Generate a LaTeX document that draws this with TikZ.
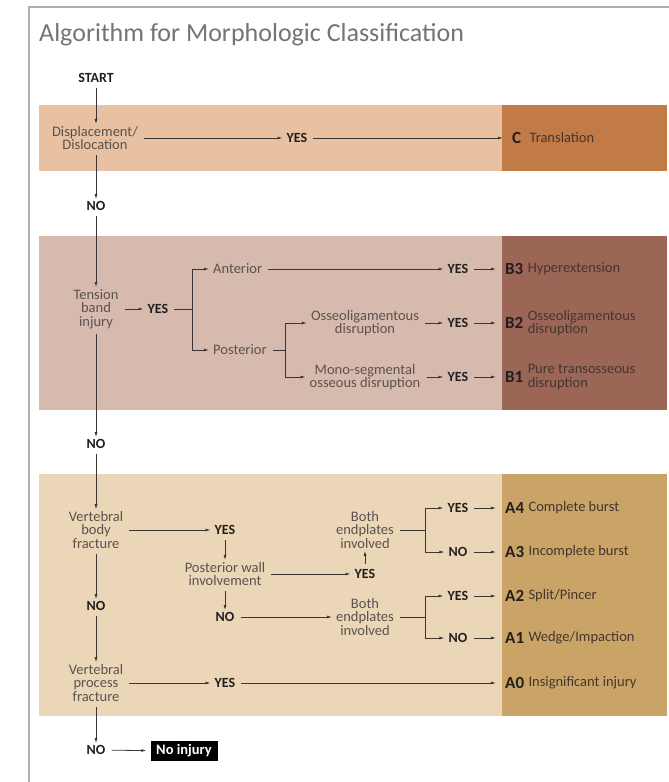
\documentclass[tikz,border=0pt]{standalone}
\usepackage{fontspec}
\setmainfont{Carlito}
\usetikzlibrary{arrows.meta}
\definecolor{frm}{HTML}{B0B0B0}
\definecolor{cl}{HTML}{E8C1A2}
\definecolor{cd}{HTML}{C27A46}
\definecolor{bl}{HTML}{D7BAAE}
\definecolor{bd}{HTML}{9C6657}
\definecolor{al}{HTML}{EBD7B8}
\definecolor{ad}{HTML}{C9A466}
\definecolor{txtc}{HTML}{5C524E}
\definecolor{descc}{HTML}{45352F}
\definecolor{darkc}{HTML}{231F20}
\definecolor{linec}{HTML}{3D3535}
\definecolor{titlec}{HTML}{747476}
\newcommand\lblfont{\fontsize{14.5}{13.5}\selectfont}
\newcommand\ynfont{\fontsize{14}{14}\selectfont\bfseries}
\newcommand\codefont{\fontsize{17}{17}\selectfont\bfseries}
\newcommand\ttlfont{\fontsize{26}{30}\selectfont}
\tikzset{
  lbl/.style={font=\lblfont, text=txtc, align=center, inner sep=0pt},
  yn/.style={font=\ynfont, text=darkc, inner sep=0pt},
  code/.style={font=\codefont, text=darkc, inner sep=0pt, anchor=west},
  desc/.style={font=\lblfont, text=descc, align=left, inner sep=0pt, anchor=west},
  con/.style={draw=linec, line width=0.8pt},
  arr/.style={con, -{Latex[length=5pt,width=3pt]}, shorten >=4pt},
  gap/.style={shorten <=6pt},
  tocode/.style={shorten >=9pt},
  vgap/.style={shorten <=5pt, shorten >=2pt},
}
\begin{document}
\begin{tikzpicture}[x=1pt,y=-1pt]
\useasboundingbox (0,0) rectangle (669,782);
\fill[white] (0,0) rectangle (669,782);
% frame
\draw[frm, line width=1.3pt] (669,7) -- (29,7) -- (29,782);
% bands
\fill[cl] (39,105) rectangle (502,171);
\fill[cd] (502,105) rectangle (667,171);
\fill[bl] (39,236) rectangle (502,410);
\fill[bd] (502,236) rectangle (667,410);
\fill[al] (39,474) rectangle (502,716);
\fill[ad] (502,474) rectangle (667,716);
% title
\node[font=\ttlfont, text=titlec, inner sep=0pt, anchor=base west] (title) at (39,41) {Algorithm for Morphologic Classification};

% C
\node[yn] (start) at (96,78) {START};
\node[lbl] (disp) at (95,138) {Displacement/\\Dislocation};
\node[yn] (yesC) at (297,138) {YES};
\node[code] (codeC) at (512,138) {C};
\node[desc] (descC) at ([xshift=8pt]codeC.east) {Translation};
\draw[arr,vgap] (start) -- (start |- disp.north);
\draw[arr,gap] (disp) -- (yesC);
\draw[arr,gap,tocode] (yesC) -- (codeC);
\node[yn] (noC) at (96,206) {NO};
\draw[arr,vgap] (start |- disp.south) -- (noC);

% B
\node[lbl] (tens) at (96,309) {Tension\\band\\injury};
\draw[arr,vgap] (noC) -- (tens);
\node[yn] (yesT) at (158,309) {YES};
\draw[arr,gap] (tens) -- (yesT);
\coordinate (br1) at (192,309);
\draw[con,gap] (yesT) -- (br1);
\node[lbl, anchor=west] (ant) at (213,269) {Anterior};
\node[lbl, anchor=west] (post) at (213,350) {Posterior};
\draw[arr] (br1) |- (ant);
\draw[arr] (br1) |- (post);
\node[yn] (yesB3) at (458,269) {YES};
\draw[arr,gap] (ant) -- (yesB3);
\node[code] (codeB3) at (505,269) {B3};
\node[desc] (descB3) at ([xshift=4pt]codeB3.east) {Hyperextension};
\draw[arr,gap,tocode] (yesB3) -- (codeB3);
\coordinate (br2) at (285,350);
\draw[con,gap] (post) -- (br2);
\node[lbl] (oss) at (365,323) {Osseoligamentous\\disruption};
\node[lbl] (mono) at (365,377) {Mono-segmental\\osseous disruption};
\draw[arr] (br2) |- (oss);
\draw[arr] (br2) |- (mono);
\node[yn] (yesB2) at (458,323) {YES};
\node[yn] (yesB1) at (458,377) {YES};
\draw[arr,gap] (oss) -- (yesB2);
\draw[arr,gap] (mono) -- (yesB1);
\node[code] (codeB2) at (505,323) {B2};
\node[desc] (descB2) at ([xshift=4pt]codeB2.east) {Osseoligamentous\\disruption};
\node[code] (codeB1) at (505,377) {B1};
\node[desc] (descB1) at ([xshift=4pt]codeB1.east) {Pure transosseous\\disruption};
\draw[arr,gap,tocode] (yesB2) -- (codeB2);
\draw[arr,gap,tocode] (yesB1) -- (codeB1);
\node[yn] (noB) at (96,444) {NO};
\draw[arr,vgap] (tens) -- (noB);

% A
\node[lbl] (vbf) at (96,530) {Vertebral\\body\\fracture};
\draw[arr,vgap] (noB) -- (vbf);
\node[yn] (yesV) at (225,530) {YES};
\draw[arr,gap] (vbf) -- (yesV);
\node[lbl] (pwi) at (225,574) {Posterior wall\\involvement};
\draw[arr,vgap] (yesV) -- (pwi);
\node[yn] (yesP) at (365,574) {YES};
\draw[arr,gap] (pwi) -- (yesP);
\node[lbl] (both1) at (365,530) {Both\\endplates\\involved};
\draw[arr,vgap] (yesP) -- (both1);
\coordinate (br3) at (425,530);
\draw[con,gap] (both1) -- (br3);
\node[yn] (yesA4) at (458,508) {YES};
\node[yn] (noA3) at (458,552) {NO};
\draw[arr] (br3) |- (yesA4);
\draw[arr] (br3) |- (noA3);
\node[code] (codeA4) at (505,508) {A4};
\node[desc] (descA4) at ([xshift=4pt]codeA4.east) {Complete burst};
\node[code] (codeA3) at (505,552) {A3};
\node[desc] (descA3) at ([xshift=4pt]codeA3.east) {Incomplete burst};
\draw[arr,gap,tocode] (yesA4) -- (codeA4);
\draw[arr,gap,tocode] (noA3) -- (codeA3);
\node[yn] (noP) at (225,617) {NO};
\draw[arr,vgap] (pwi) -- (noP);
\node[lbl] (both2) at (365,617) {Both\\endplates\\involved};
\draw[arr,gap] (noP) -- (both2);
\coordinate (br4) at (425,617);
\draw[con,gap] (both2) -- (br4);
\node[yn] (yesA2) at (458,596) {YES};
\node[yn] (noA1) at (458,638) {NO};
\draw[arr] (br4) |- (yesA2);
\draw[arr] (br4) |- (noA1);
\node[code] (codeA2) at (505,596) {A2};
\node[desc] (descA2) at ([xshift=4pt]codeA2.east) {Split/Pincer};
\node[code] (codeA1) at (505,638) {A1};
\node[desc] (descA1) at ([xshift=4pt]codeA1.east) {Wedge/Impaction};
\draw[arr,gap,tocode] (yesA2) -- (codeA2);
\draw[arr,gap,tocode] (noA1) -- (codeA1);
\node[yn] (noV) at (96,606) {NO};
\draw[arr,vgap] (vbf) -- (noV);
\node[lbl] (vpf) at (96,683) {Vertebral\\process\\fracture};
\draw[arr,vgap] (noV) -- (vpf);
\node[yn] (yesV2) at (225,683) {YES};
\draw[arr,gap] (vpf) -- (yesV2);
\node[code] (codeA0) at (505,683) {A0};
\node[desc] (descA0) at ([xshift=4pt]codeA0.east) {Insignificant injury};
\draw[arr,gap,tocode] (yesV2) -- (codeA0);
\node[yn] (noX) at (96,750) {NO};
\draw[arr,vgap] (vpf) -- (noX);
\node[fill=black, text=white, font=\ynfont\fontsize{14.5}{14.5}\selectfont, minimum width=67pt, minimum height=20pt, inner sep=0pt] (noinj) at (184,751) {No injury};
\draw[arr,gap] (noX) -- (noinj);
\end{tikzpicture}
\end{document}
